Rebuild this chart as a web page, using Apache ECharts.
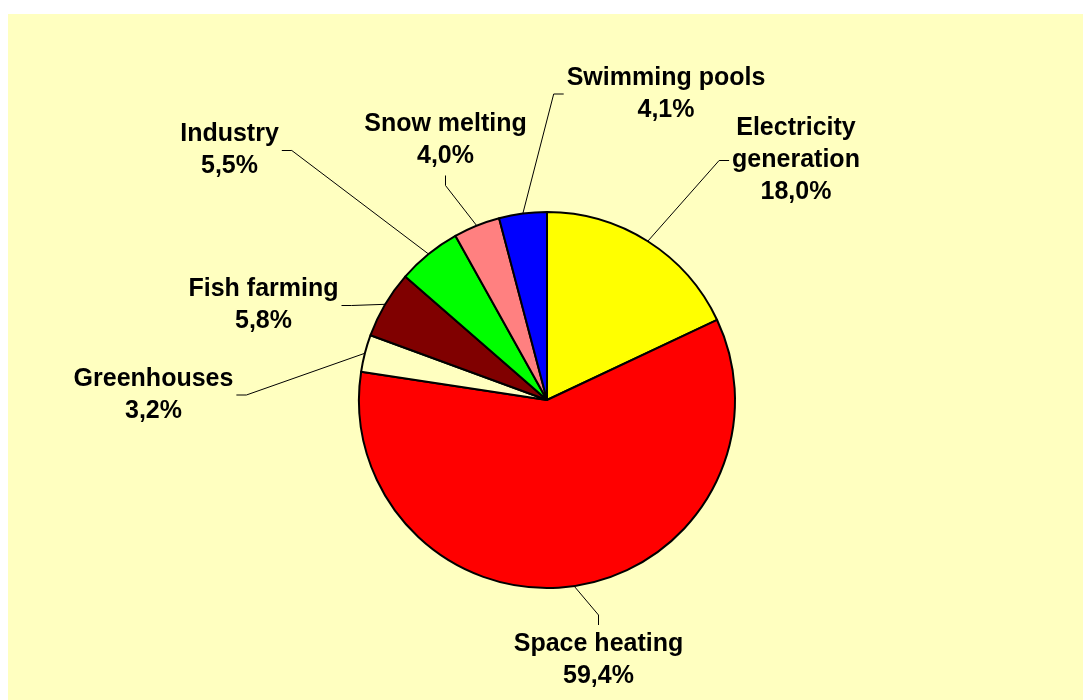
<!DOCTYPE html>
<html>
<head>
<meta charset="utf-8">
<script src="https://cdn.jsdelivr.net/npm/echarts@6/dist/echarts.min.js"></script>
<style>
  html, body { margin: 0; padding: 0; background: #ffffff; }
  #chart { position: absolute; left: 8px; top: 14px; width: 1075px; height: 686px; background: #FFFFC0; }
</style>
</head>
<body>
<div id="chart"></div>
<script>
// Direct uses of geothermal heat, share of total (%)
const categories = [
  'Electricity\ngeneration',
  'Space heating',
  'Greenhouses',
  'Fish farming',
  'Industry',
  'Snow melting',
  'Swimming pools'
];
const shares = [18.0, 59.4, 3.2, 5.8, 5.5, 4.0, 4.1];

// Slice fills, in the same order as the categories
const sliceColors = ['#FFFF00', '#FF0000', '#FFFFC0', '#800000', '#00FF00', '#FF8080', '#0000FF'];

// Where each label block sits (centre of the text block) and which side
// of the block its leader line attaches to
const labelPlacement = [
  { x: 788, y: 146.5, side: 'left' },
  { x: 590.5, y: 646, side: 'top' },
  { x: 145.5, y: 381, side: 'right' },
  { x: 255.5, y: 291.5, side: 'right' },
  { x: 221.5, y: 136.5, side: 'right' },
  { x: 437.5, y: 126.5, side: 'bottom' },
  { x: 658, y: 80, side: 'left' }
];

const STUB = 10;  // short straight piece of the leader line next to the label
const GAP = 3;    // space between the line and the text block

const chart = echarts.init(document.getElementById('chart'), null, { renderer: 'canvas' });

chart.setOption({
  animation: false,
  series: [{
    type: 'pie',
    center: [539, 386],
    radius: 188,
    startAngle: 90,
    clockwise: true,
    avoidLabelOverlap: false,
    silent: true,
    data: categories.map((name, i) => ({
      name: name,
      value: shares[i],
      itemStyle: { color: sliceColors[i] }
    })),
    itemStyle: { borderColor: '#000000', borderWidth: 2 },
    label: {
      show: true,
      position: 'outside',
      formatter: p => p.name + '\n' + p.value.toFixed(1).replace('.', ',') + '%',
      fontFamily: '"Liberation Sans", Arial, sans-serif',
      fontWeight: 'bold',
      fontSize: 25,
      lineHeight: 32,
      color: '#000000',
      align: 'center'
    },
    labelLine: {
      show: true,
      length: 15,
      length2: 15,
      lineStyle: { color: '#000000', width: 1 }
    },
    labelLayout: function (params) {
      const pl = labelPlacement[params.dataIndex];
      const w = params.labelRect.width;
      const h = params.labelRect.height;
      const left = pl.x - w / 2, right = pl.x + w / 2;
      const top = pl.y - h / 2, bottom = pl.y + h / 2;
      let end, bend;
      if (pl.side === 'left') {
        end = [left - GAP, pl.y]; bend = [end[0] - STUB, pl.y];
      } else if (pl.side === 'right') {
        end = [right + GAP, pl.y]; bend = [end[0] + STUB, pl.y];
      } else if (pl.side === 'top') {
        end = [pl.x, top - GAP]; bend = [pl.x, end[1] - STUB];
      } else {
        end = [pl.x, bottom + GAP]; bend = [pl.x, end[1] + STUB];
      }
      const start = params.labelLinePoints ? params.labelLinePoints[0] : bend;
      return {
        x: pl.x,
        y: pl.y,
        align: 'center',
        verticalAlign: 'middle',
        labelLinePoints: [start, bend, end]
      };
    }
  }]
});
</script>
</body>
</html>
